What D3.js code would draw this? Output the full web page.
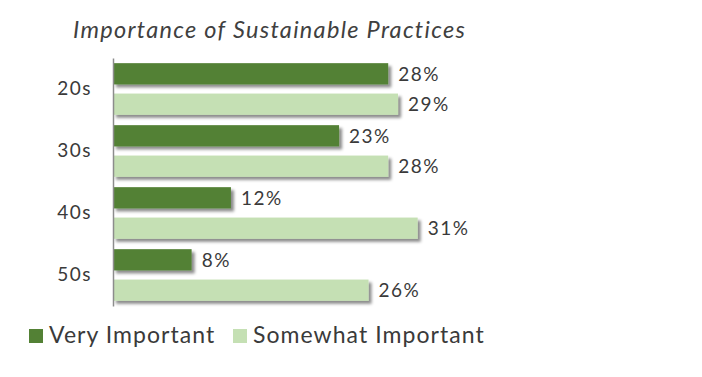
<!DOCTYPE html>
<html>
<head>
<meta charset="utf-8">
<script src="https://cdn.jsdelivr.net/npm/d3@7"></script>
<style>
  body { margin: 0; background: #fff; }
  text { font-family: Lato, "Open Sans", sans-serif; fill: #3a3a3a; }
</style>
</head>
<body>
<div id="chart"></div>
<script>
const categories = ['20s', '30s', '40s', '50s'];
const series = ['Very Important', 'Somewhat Important'];
const veryImportant = [0.28, 0.23, 0.12, 0.08];
const somewhatImportant = [0.29, 0.28, 0.31, 0.26];
const colors = ['#538135', '#c5e0b4'];

const width = 702, height = 377;
const rows = categories.map((c, i) => ({
  cat: c,
  values: [veryImportant[i], somewhatImportant[i]]
}));

const svg = d3.select('#chart').append('svg')
  .attr('width', width)
  .attr('height', height);

// soft drop shadow under the bars
const defs = svg.append('defs');
defs.append('filter')
  .attr('id', 'shadow')
  .attr('x', '-5%').attr('y', '-20%')
  .attr('width', '115%').attr('height', '160%')
  .append('feDropShadow')
  .attr('dx', 3).attr('dy', 3)
  .attr('stdDeviation', 1.8)
  .attr('flood-color', '#000')
  .attr('flood-opacity', 0.45);

const x = d3.scaleLinear().domain([0, 0.35]).range([113, 457]);
const y0 = d3.scaleBand().domain(categories).range([58, 306]);
const y1 = d3.scaleBand().domain(series).range([0, y0.bandwidth()])
  .paddingInner(0.3).paddingOuter(0.17);

svg.append('text')
  .attr('x', 73).attr('y', 38)
  .style('font-size', '23.5px')
  .style('font-style', 'italic')
  .style('letter-spacing', '1.3px')
  .style('fill', '#404040')
  .text('Importance of Sustainable Practices');

const groups = svg.append('g').selectAll('g')
  .data(rows)
  .join('g')
  .attr('transform', d => `translate(0,${y0(d.cat)})`);

groups.selectAll('rect')
  .data(d => d.values.map((v, j) => ({ s: series[j], v, j })))
  .join('rect')
  .attr('x', x(0))
  .attr('y', d => y1(d.s))
  .attr('width', d => x(d.v) - x(0))
  .attr('height', y1.bandwidth())
  .attr('fill', d => colors[d.j])
  .attr('filter', 'url(#shadow)');

groups.selectAll('text.val')
  .data(d => d.values.map((v, j) => ({ s: series[j], v })))
  .join('text')
  .attr('class', 'val')
  .attr('x', d => x(d.v) + 10)
  .attr('y', d => y1(d.s) + y1.bandwidth() / 2)
  .attr('dy', '0.36em')
  .style('font-size', '19px')
  .style('letter-spacing', '1.5px')
  .text(d => d3.format('.0%')(d.v));

// category axis
const yAxis = d3.axisLeft(y0).tickSize(0).tickPadding(21);
const ag = svg.append('g')
  .attr('transform', `translate(${x(0)},0)`)
  .call(yAxis);
ag.select('.domain').attr('stroke', '#8c8c8c').attr('stroke-width', 1.5);
ag.selectAll('text')
  .style('font-size', '19px')
  .style('font-family', 'Lato, sans-serif')
  .style('letter-spacing', '1.5px')
  .attr('fill', '#3a3a3a');

// legend
const legend = svg.append('g').attr('transform', 'translate(29,329)');
const li = legend.selectAll('g')
  .data(series)
  .join('g')
  .attr('transform', (d, i) => `translate(${i === 0 ? 0 : 204},0)`);
li.append('rect')
  .attr('width', 14).attr('height', 14)
  .attr('fill', (d, i) => colors[i]);
li.append('text')
  .attr('x', 20).attr('y', 14)
  .style('font-size', '23px')
  .style('letter-spacing', '1.05px')
  .text(d => d);
</script>
</body>
</html>
